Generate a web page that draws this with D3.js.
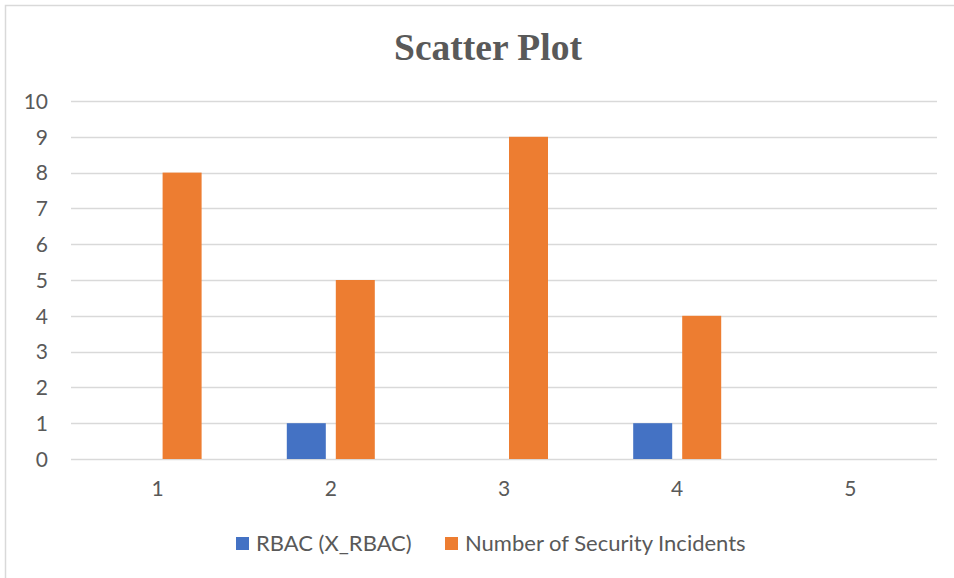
<!DOCTYPE html>
<html>
<head>
<meta charset="utf-8">
<script src="https://cdn.jsdelivr.net/npm/d3@7"></script>
<style>
  html, body { margin: 0; padding: 0; background: #fff; }
  svg { display: block; }
</style>
</head>
<body>
<svg id="chart" width="954" height="578"></svg>
<script>
// Category labels along the x axis
const categories = ["1", "2", "3", "4", "5"];
// Series names and values per category
const seriesNames = ["RBAC (X_RBAC)", "Number of Security Incidents"];
const rbacValues = [0, 1, 0, 1, 0];
const incidentValues = [8, 5, 9, 4, 0];
const seriesColors = ["#4472c4", "#ed7d31"];
// Y axis ticks
const yTicks = [0, 1, 2, 3, 4, 5, 6, 7, 8, 9, 10];

const svg = d3.select("#chart");
const W = 954, H = 578;
const plot = { left: 71, right: 937, top: 101, bottom: 459 };
const textColor = "#595959";
const gridColor = "#d9d9d9";
const labelFont = "Lato, 'Open Sans', sans-serif";
const labelSize = 21;

// Outer chart border
svg.append("rect")
  .attr("x", 5.5).attr("y", 5.5)
  .attr("width", W + 10).attr("height", H + 10)
  .attr("fill", "#fff").attr("stroke", gridColor).attr("stroke-width", 1.5);

// Title
svg.append("text")
  .attr("x", 488).attr("y", 60)
  .attr("text-anchor", "middle")
  .attr("font-family", "'Liberation Serif', 'Times New Roman', serif")
  .attr("font-weight", "bold")
  .attr("font-size", 37.5)
  .attr("fill", textColor)
  .text("Scatter Plot");

const x = d3.scaleBand().domain(categories).range([plot.left, plot.right]);
const y = d3.scaleLinear().domain([0, 10]).range([plot.bottom, plot.top]);

// Gridlines
svg.append("g")
  .selectAll("line")
  .data(yTicks)
  .join("line")
  .attr("x1", plot.left).attr("x2", plot.right)
  .attr("y1", d => Math.round(y(d)) + 0.5).attr("y2", d => Math.round(y(d)) + 0.5)
  .attr("stroke", gridColor).attr("stroke-width", 1.3);

// Y axis labels
const yAxis = d3.axisLeft(y).tickValues(yTicks).tickSize(0).tickPadding(0).tickFormat(d3.format("d"));
svg.append("g")
  .attr("transform", `translate(${48},0)`)
  .call(yAxis)
  .call(g => g.select(".domain").remove())
  .call(g => g.selectAll("text")
    .attr("font-family", labelFont).attr("font-size", labelSize)
    .attr("fill", textColor).attr("dy", "0.35em"));

// X axis labels
const xAxis = d3.axisBottom(x).tickSize(0).tickPadding(0);
svg.append("g")
  .attr("transform", `translate(0,${plot.bottom})`)
  .call(xAxis)
  .call(g => g.select(".domain").remove())
  .call(g => g.selectAll("text")
    .attr("font-family", labelFont).attr("font-size", labelSize)
    .attr("fill", textColor).attr("y", 37).attr("dy", 0));

// Bars
const barWidth = 39, innerGap = 10;
const series = [rbacValues, incidentValues];
const sub = d3.scaleOrdinal().domain([0, 1])
  .range([-(innerGap / 2 + barWidth), innerGap / 2]);

series.forEach((vals, si) => {
  svg.append("g")
    .selectAll("rect")
    .data(vals.map((v, i) => ({ cat: categories[i], v })))
    .join("rect")
    .attr("x", d => x(d.cat) + x.bandwidth() / 2 + sub(si))
    .attr("y", d => y(d.v))
    .attr("width", barWidth)
    .attr("height", d => y(0) - y(d.v))
    .attr("fill", seriesColors[si]);
});

// Legend
const legendItems = [
  { name: seriesNames[0], color: seriesColors[0], x: 236 },
  { name: seriesNames[1], color: seriesColors[1], x: 445 }
];
const legend = svg.append("g");
legendItems.forEach(item => {
  legend.append("rect")
    .attr("x", item.x).attr("y", 537)
    .attr("width", 13).attr("height", 13)
    .attr("fill", item.color);
  legend.append("text")
    .attr("x", item.x + 20).attr("y", 551)
    .attr("font-family", labelFont).attr("font-size", 22)
    .attr("fill", textColor)
    .text(item.name);
});
</script>
</body>
</html>
